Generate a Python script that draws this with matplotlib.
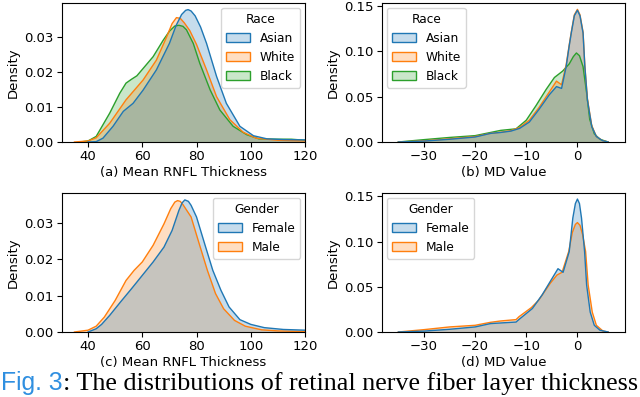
import matplotlib as mpl
mpl.use('Agg')
import matplotlib.pyplot as plt
from matplotlib.patches import Patch

# Colours (matplotlib tab10)
blue = '#1f77b4'
orange = '#ff7f0e'
green = '#2ca02c'

# (a) Mean RNFL thickness by race, densities
rnfl_asian_x = [40, 43, 45.5, 49.2, 53, 56.6, 60.3, 65.2, 70, 72.5, 74.5, 76, 76.9, 78, 79.5, 81.5, 83.7, 87.4,
                91, 96, 101, 106, 112, 120]
rnfl_asian_d = [0.0, 0.0001, 0.0011, 0.0045, 0.0088, 0.0111, 0.0149, 0.0207, 0.0283, 0.0335, 0.0366, 0.0378,
                0.0380, 0.0376, 0.0362, 0.0330, 0.0283, 0.0188, 0.0111, 0.0045, 0.0018, 0.0009, 0.0007, 0.0006]
rnfl_white_x = [35, 40, 43, 48, 54, 60.3, 65.2, 69, 71, 72.6, 74, 75.5, 77.5, 80, 83.7, 87.4, 92.3, 97.2, 102,
                110, 120]
rnfl_white_d = [0.0, 0.0003, 0.0012, 0.0054, 0.0121, 0.0178, 0.0235, 0.0302, 0.0340, 0.0357, 0.0355, 0.0342,
                0.0320, 0.0280, 0.0207, 0.0130, 0.0064, 0.0028, 0.0011, 0.0005, 0.0003]
rnfl_black_x = [37, 40, 43, 48, 51.7, 54, 56, 58, 60.3, 64, 67.7, 70, 72, 73.5, 75, 76.3, 78.8, 81.2, 85, 88.6,
                93.5, 98.5, 103, 110, 115, 120]
rnfl_black_d = [0.0, 0.0003, 0.0016, 0.0083, 0.0140, 0.0169, 0.0180, 0.0190, 0.0211, 0.0245, 0.0292, 0.0318,
                0.0333, 0.0335, 0.0332, 0.0322, 0.0283, 0.0226, 0.0150, 0.0092, 0.0045, 0.0021, 0.0009, 0.0008,
                0.0008, 0.0005]

# (b) MD value by race
md_asian_x = [-35, -30, -25, -20, -17, -15, -13, -11.3, -9.4, -7.5, -5.5, -4.1, -3.1, -2.2, -1.6, -1.2, -0.6,
              0, 0.5, 1.1, 1.45, 1.96, 2.8, 3.7, 4.9, 6]
md_asian_d = [0.0, 0.001, 0.003, 0.0055, 0.0095, 0.0105, 0.012, 0.015, 0.022, 0.036, 0.052, 0.061, 0.059, 0.083,
              0.106, 0.120, 0.139, 0.145, 0.139, 0.120, 0.083, 0.046, 0.017, 0.006, 0.0015, 0.0]
md_white_x = [-35, -30, -25, -20, -17, -15, -13, -11.3, -9.4, -7.5, -5.5, -4.1, -3.1, -2.2, -1.6, -1.2, -0.6,
              0, 0.5, 1.1, 1.45, 1.96, 2.8, 3.7, 4.9, 6]
md_white_d = [0.0, 0.0012, 0.0035, 0.006, 0.0095, 0.0108, 0.0125, 0.016, 0.024, 0.038, 0.055, 0.067, 0.063,
              0.085, 0.107, 0.121, 0.140, 0.146, 0.140, 0.121, 0.084, 0.047, 0.018, 0.006, 0.0015, 0.0]
md_black_x = [-35, -30, -25, -20, -15, -12, -10, -8.1, -6.1, -4.5, -2.9, -1.6, -0.8, -0.2, 0.4, 1.1, 1.8, 2.4,
              3.3, 4.4, 6]
md_black_d = [0.0, 0.0026, 0.005, 0.007, 0.0128, 0.0145, 0.024, 0.040, 0.058, 0.071, 0.078, 0.086, 0.094, 0.098,
              0.095, 0.083, 0.054, 0.025, 0.009, 0.003, 0.0]

# (c) Mean RNFL thickness by gender
rnfl_female_x = [40, 43, 45, 48, 52, 56, 60, 64, 68, 71, 73.5, 74.7, 75.7, 77, 78, 80, 83, 86, 89, 92, 96, 100,
                 105, 112, 120]
rnfl_female_d = [0.0, 0.0009, 0.0021, 0.0046, 0.0083, 0.0119, 0.0156, 0.0193, 0.0234, 0.0280, 0.0335, 0.0356,
                 0.0364, 0.0360, 0.0349, 0.0317, 0.0243, 0.0170, 0.0115, 0.0069, 0.0034, 0.0021, 0.0012, 0.0007,
                 0.0005]
rnfl_male_x = [35, 40, 43, 46, 50, 54, 57, 60, 64, 68, 70.5, 72, 73, 74, 75, 78, 81, 84, 87, 90, 94, 98, 104,
               110, 120]
rnfl_male_d = [0.0, 0.0005, 0.0016, 0.0041, 0.0087, 0.0142, 0.0170, 0.0193, 0.0239, 0.0298, 0.0340, 0.0358,
               0.0362, 0.0360, 0.0351, 0.0317, 0.0243, 0.0170, 0.0106, 0.0064, 0.0032, 0.0016, 0.0006, 0.0003,
               0.0001]

# (d) MD value by gender
md_female_x = [-35, -30, -25, -20, -17, -15, -12, -11.4, -8.8, -6.9, -5.3, -3.8, -2.8, -1.6, -0.9, -0.4, 0,
               0.4, 0.8, 1.4, 1.8, 2.5, 3.3, 4.4, 6]
md_female_d = [0.0, 0.001, 0.003, 0.0056, 0.0093, 0.010, 0.011, 0.014, 0.026, 0.041, 0.056, 0.070, 0.066, 0.089,
               0.126, 0.142, 0.147, 0.142, 0.126, 0.089, 0.052, 0.022, 0.0074, 0.002, 0.0]
md_male_x = [-35, -30, -25, -20, -17, -15, -12, -11.4, -9, -7.6, -5.3, -4, -3, -1.7, -1, -0.4, 0, 0.5, 1, 1.6,
             2.1, 2.9, 3.7, 5, 6]
md_male_d = [0.0, 0.0026, 0.0056, 0.0074, 0.0107, 0.0122, 0.0137, 0.017, 0.027, 0.035, 0.054, 0.063, 0.066,
             0.089, 0.110, 0.119, 0.121, 0.118, 0.108, 0.089, 0.052, 0.022, 0.0074, 0.001, 0.0]

race_labels = ['Asian', 'White', 'Black']
gender_labels = ['Female', 'Male']
xlabels = ['(a) Mean RNFL Thickness', '(b) MD Value', '(c) Mean RNFL Thickness', '(d) MD Value']
caption_head = 'Fig. 3'
caption_tail = ': The distributions of retinal nerve fiber layer thickness'

W, H = 640, 397
fig = plt.figure(figsize=(W / 100, H / 100), dpi=100)
plt.rcParams['font.family'] = 'DejaVu Sans'
tick_size = 9.5
legend_size = 8.7


def px_axes(left, top, right, bottom):
	return fig.add_axes([left / W, 1 - bottom / H, (right - left) / W, (bottom - top) / H])


def draw_kde(ax, series, colors, labels, title, loc):
	# draw in reverse order so the first level sits on top, as seaborn does
	for (xs, ds), c in reversed(list(zip(series, colors))):
		ax.fill_between(xs, ds, 0, facecolor=c, alpha=0.25, linewidth=0)
		ax.plot(xs, ds, color=c, linewidth=1.0, solid_joinstyle='round')
	handles = [Patch(facecolor=mpl.colors.to_rgba(c, 0.25), edgecolor=c, linewidth=1.0) for c in colors]
	ax.legend(handles, labels, title=title, loc=loc, fontsize=legend_size, title_fontsize=legend_size,
		framealpha=0.8, borderaxespad=0.4)
	ax.set_ylabel('Density', fontsize=tick_size, labelpad=3)
	ax.tick_params(labelsize=tick_size, length=3.5, width=0.8, pad=2.5)
	for s in ax.spines.values():
		s.set_linewidth(0.8)


ax_a = px_axes(62, 3, 305, 142)
draw_kde(ax_a, [(rnfl_asian_x, rnfl_asian_d), (rnfl_white_x, rnfl_white_d), (rnfl_black_x, rnfl_black_d)],
	[blue, orange, green], race_labels, 'Race', 'upper right')
ax_a.set_xlim(30.4, 120)
ax_a.set_ylim(0, 0.0399)
ax_a.set_xticks([40, 60, 80, 100, 120])
ax_a.set_yticks([0.0, 0.01, 0.02, 0.03])
ax_a.yaxis.set_major_formatter(mpl.ticker.FormatStrFormatter('%.2f'))

ax_b = px_axes(382, 3, 625, 142)
draw_kde(ax_b, [(md_asian_x, md_asian_d), (md_white_x, md_white_d), (md_black_x, md_black_d)],
	[blue, orange, green], race_labels, 'Race', 'upper left')
ax_b.set_xlim(-38.2, 9.3)
ax_b.set_ylim(0, 0.153)
ax_b.set_xticks([-30, -20, -10, 0])
ax_b.set_yticks([0.0, 0.05, 0.10, 0.15])
ax_b.yaxis.set_major_formatter(mpl.ticker.FormatStrFormatter('%.2f'))

ax_c = px_axes(62, 193, 305, 332)
draw_kde(ax_c, [(rnfl_female_x, rnfl_female_d), (rnfl_male_x, rnfl_male_d)],
	[blue, orange], gender_labels, 'Gender', 'upper right')
ax_c.set_xlim(30.4, 120)
ax_c.set_ylim(0, 0.0383)
ax_c.set_xticks([40, 60, 80, 100, 120])
ax_c.set_yticks([0.0, 0.01, 0.02, 0.03])
ax_c.yaxis.set_major_formatter(mpl.ticker.FormatStrFormatter('%.2f'))

ax_d = px_axes(382, 193, 625, 332)
draw_kde(ax_d, [(md_female_x, md_female_d), (md_male_x, md_male_d)],
	[blue, orange], gender_labels, 'Gender', 'upper left')
ax_d.set_xlim(-38.2, 9.3)
ax_d.set_ylim(0, 0.1537)
ax_d.set_xticks([-30, -20, -10, 0])
ax_d.set_yticks([0.0, 0.05, 0.10, 0.15])
ax_d.yaxis.set_major_formatter(mpl.ticker.FormatStrFormatter('%.2f'))

for ax, lab in zip([ax_a, ax_b, ax_c, ax_d], xlabels):
	ax.set_xlabel(lab, fontsize=tick_size, labelpad=2)

# Caption: blue sans "Fig. 3" followed by serif text
head = fig.text(1 / W, 1 - 390 / H, caption_head, color='#2f8fe0', fontsize=17.8,
	family='Liberation Sans', va='baseline', ha='left')
fig.canvas.draw()
bb = head.get_window_extent()
fig.text(bb.x1 / W, 1 - 390 / H, caption_tail, color='black', fontsize=18.8,
	family='Liberation Serif', va='baseline', ha='left')

fig.savefig('out.png', dpi=100)
plt.close(fig)
